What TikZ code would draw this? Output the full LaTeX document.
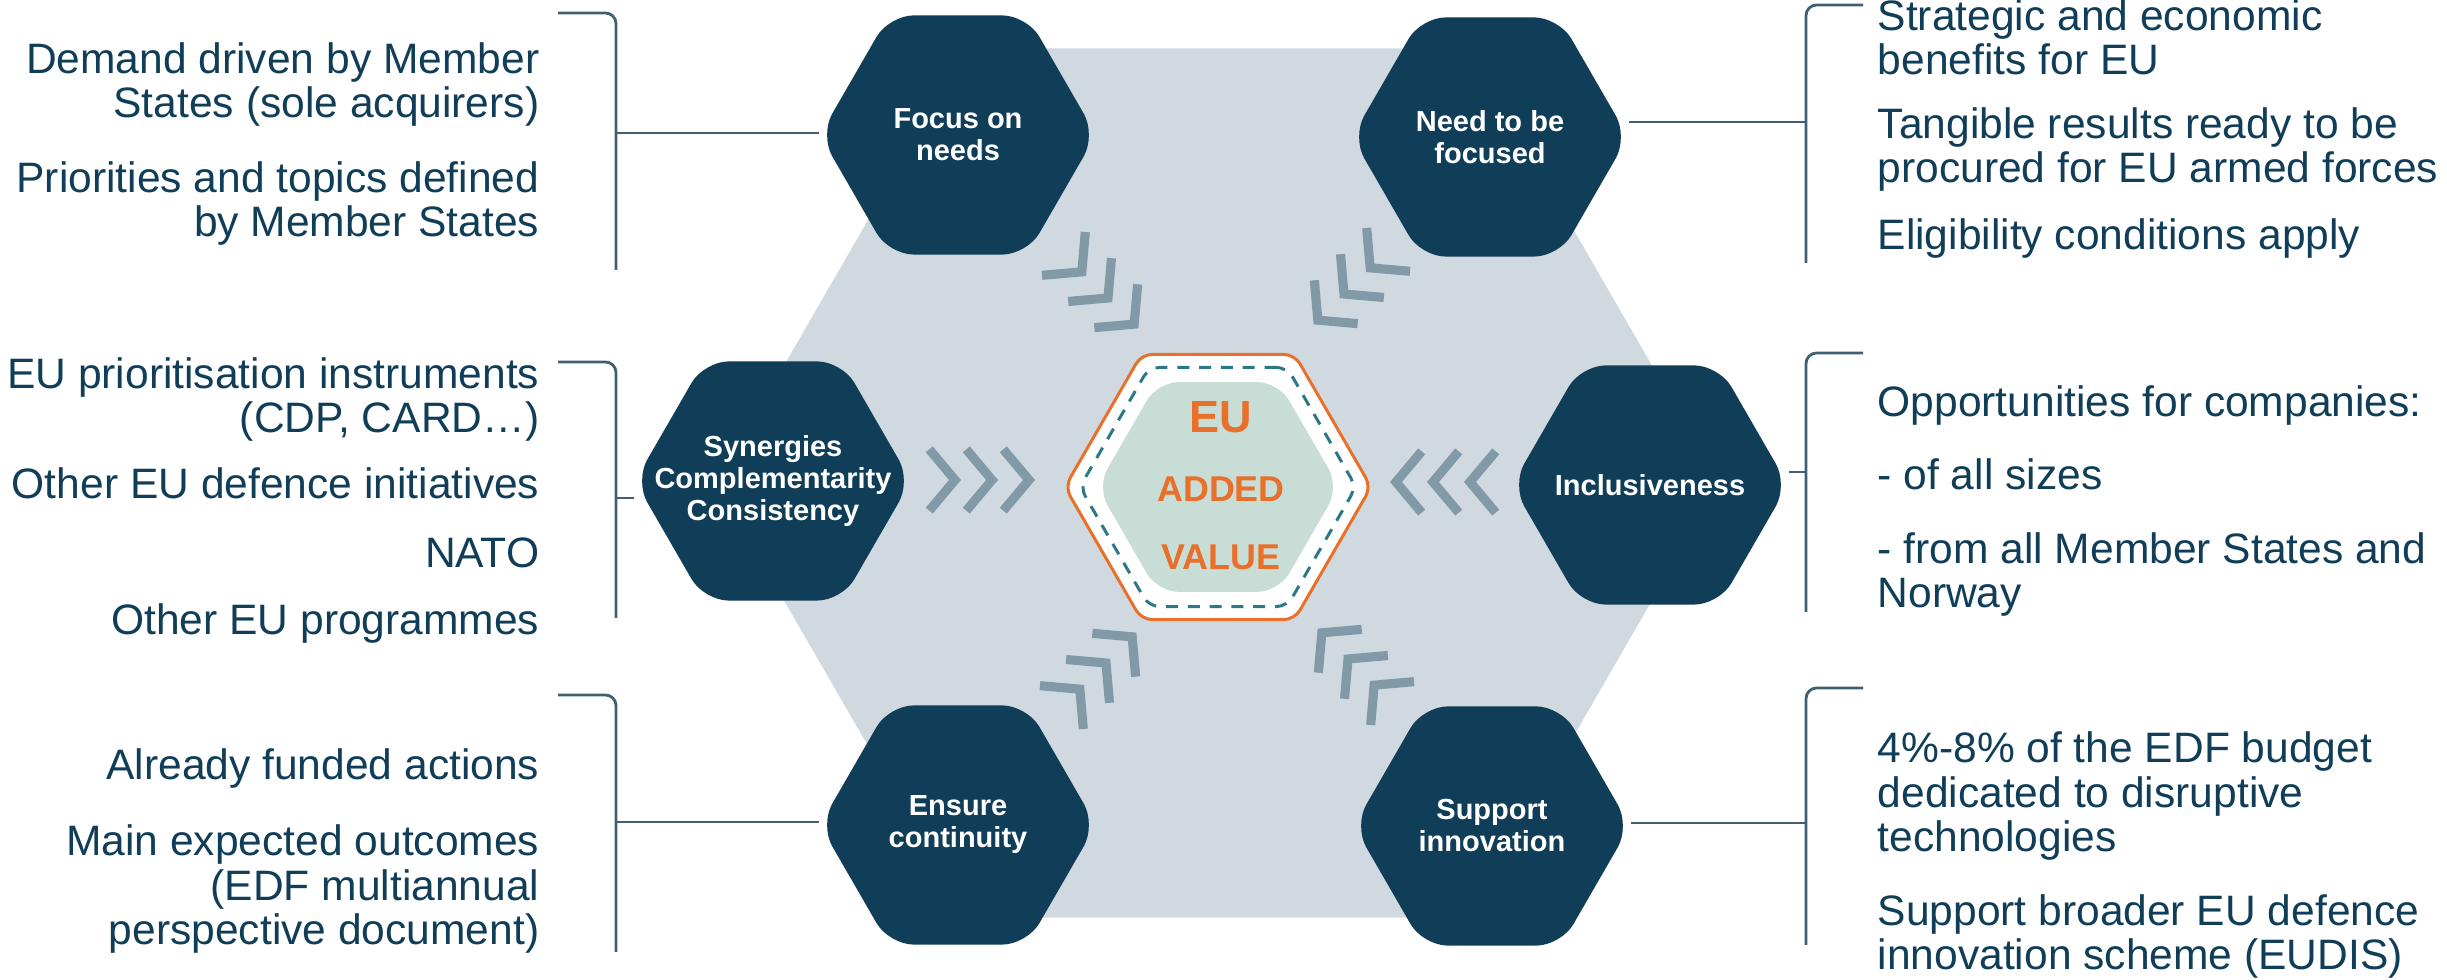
\documentclass[tikz,border=0pt]{standalone}
\usepackage{fontspec}
\setmainfont{Liberation Sans}
\usetikzlibrary{shapes.geometric,calc,backgrounds}
\definecolor{hexblue}{RGB}{16,61,88}
\definecolor{fieldgray}{RGB}{208,217,223}
\definecolor{chevgray}{RGB}{130,153,168}
\definecolor{euorange}{RGB}{232,112,42}
\definecolor{dashteal}{RGB}{45,120,135}
\definecolor{coregreen}{RGB}{200,221,213}
\definecolor{brkblue}{RGB}{65,95,115}
\tikzset{
  hexa/.style={regular polygon,regular polygon sides=6,inner sep=0pt},
  pillar/.style={hexa,minimum size=2.76cm,fill=hexblue,rounded corners=7pt},
  pillartext/.style={text=white,font=\fontsize{8.25pt}{9.1pt}\selectfont\bfseries,align=center},
  sidetext/.style={text=hexblue,font=\fontsize{12.1pt}{12.7pt}\selectfont,inner sep=0pt},
  eutext/.style={text=euorange,font=\fontsize{10.2pt}{12pt}\selectfont\bfseries,anchor=base,inner sep=0pt},
  brk/.style={brkblue,line width=0.8pt,rounded corners=3pt},
  chev/.style={chevgray,line width=2.6pt,line join=miter}
}
\newcommand{\pillar}[4]{\node[pillar] (#1) at (#2,#3) {}; \node[pillartext] (#1-t) at (#1) {#4};}
\newcommand{\brackL}[4]{\draw[brk] (558,#1) -- (616,#1) -- (616,#2); \coordinate (#4-j) at (616,#3); \draw[brk] (#4-j) -- (#4-j -| #4.west);}
\newcommand{\brackR}[4]{\draw[brk] (1863,#1) -- (1806,#1) -- (1806,#2); \coordinate (#4-j) at (1806,#3); \draw[brk] (#4-j) -- (#4-j -| #4.east);}

\begin{document}
\begin{tikzpicture}[x=0.01cm,y=-0.01cm]
    \useasboundingbox (0,0) rectangle (2447,980);
    \node[hexa,minimum size=10.03cm,fill=fieldgray] (field) at (1218,483) {};
    \pillar{focus}{958}{135}{Focus on\\needs}
    \pillar{need}{1490}{137}{Need to be\\focused}
    \pillar{syn}{773}{481}{Synergies\\Complementarity\\Consistency}
    \pillar{incl}{1650}{485}{Inclusiveness}
    \pillar{ensure}{958}{825}{Ensure\\continuity}
    \pillar{support}{1492}{826}{Support\\innovation}

    % centre hexagon
    \node[hexa,minimum size=3.06cm,fill=white,draw=euorange,line width=0.85pt,rounded corners=3pt] (ring) at (1218,487) {};
    \node[hexa,minimum size=2.76cm,draw=dashteal,line width=0.85pt,dash pattern=on 3.4pt off 2.8pt,rounded corners=3pt] (dash) at (ring) {};
    \node[hexa,minimum size=2.42cm,fill=coregreen,rounded corners=6pt] (core) at (ring) {};
    \node[eutext,font=\fontsize{12.8pt}{14pt}\selectfont\bfseries] (eu) at (1221,433) {EU};
    \node[eutext] (added) at (1221,502) {ADDED};
    \node[eutext] (value) at (1221,570) {VALUE};

    % chevrons
    \foreach \cx/\cy/\a in {992/480/0,1433/482/180,1108/298/45,1344/294/135,1106/663/-45,1348/659/-135}
      \foreach \k in {-1,0,1}{
        \coordinate (tip) at ($(\cx,\cy)+(\a:\k*37)$);
        \draw[chev] ($(tip)+(\a+130:40)$) -- (tip) -- ($(tip)+(\a-130:40)$);
      }

    % base = last line
    \node[sidetext,align=right,anchor=base east] (l1) at (540,118) {Demand driven by Member\\States (sole acquirers)};
    \node[sidetext,align=right,anchor=base east] (l2) at (540,237) {Priorities and topics defined\\by Member States};
    \node[sidetext,align=right,anchor=base east] (l3) at (540,433) {EU prioritisation instruments\\(CDP, CARD…)};
    \node[sidetext,anchor=base east] (l4) at (540,499) {Other EU defence initiatives};
    \node[sidetext,anchor=base east] (l5) at (540,568) {NATO};
    \node[sidetext,anchor=base east] (l6) at (540,635) {Other EU programmes};
    \node[sidetext,anchor=base east] (l7) at (540,780) {Already funded actions};
    \node[sidetext,align=right,anchor=base east] (l8) at (540,945) {Main expected outcomes\\(EDF multiannual\\perspective document)};

    \node[sidetext,align=left,anchor=base west] (r1) at (1877,75) {Strategic and economic\\benefits for EU};
    \node[sidetext,align=left,anchor=base west] (r2) at (1877,183) {Tangible results ready to be\\procured for EU armed forces};
    \node[sidetext,anchor=base west] (r3) at (1877,250) {Eligibility conditions apply};
    \node[sidetext,anchor=base west] (r4) at (1877,417) {Opportunities for companies:};
    \node[sidetext,anchor=base west] (r5) at (1877,490) {- of all sizes};
    \node[sidetext,align=left,anchor=base west] (r6) at (1877,608) {- from all Member States and\\Norway};
    \node[sidetext,align=left,anchor=base west] (r7) at (1877,852) {4\%-8\% of the EDF budget\\dedicated to disruptive\\technologies};
    \node[sidetext,align=left,anchor=base west] (r8) at (1877,970) {Support broader EU defence\\innovation scheme (EUDIS)};

    \begin{pgfonlayer}{background}
    \brackL{13}{270}{133}{focus}
    \brackL{362}{618}{498}{syn}
    \brackL{695}{952}{822}{ensure}
    \brackR{5}{263}{122}{need}
    \brackR{353}{612}{472}{incl}
    \brackR{688}{945}{823}{support}
    \end{pgfonlayer}
\end{tikzpicture}
\end{document}
